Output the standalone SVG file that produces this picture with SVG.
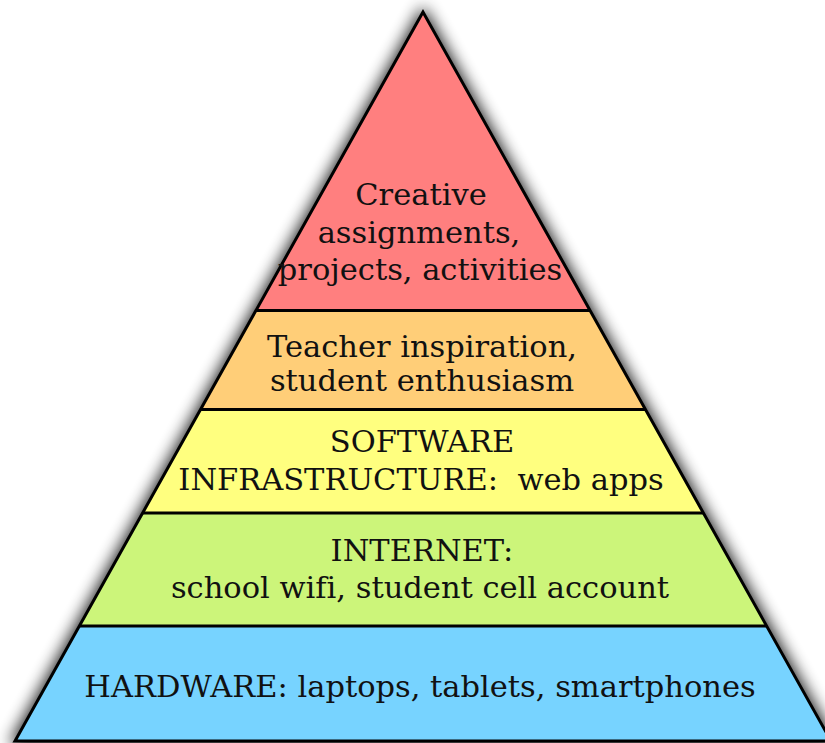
<svg xmlns="http://www.w3.org/2000/svg" width="825" height="743" viewBox="0 0 825 743">
  <defs>
    <filter id="shadow" x="-20%" y="-20%" width="140%" height="140%">
      <feGaussianBlur stdDeviation="8"/>
    </filter>
    <clipPath id="tri"><polygon points="423,12 15,741 831,741"/></clipPath>
  </defs>
  <style>
    .lbl { font-family: "DejaVu Serif", "Liberation Serif", serif; font-size: 30.5px; fill: #111; text-anchor: middle; white-space: pre; font-variant-ligatures: none; }
    .sep { stroke: #000; stroke-width: 3; }
  </style>
  <rect width="825" height="743" fill="#fff"/>
  <polygon points="423,6 9,745 837,745" fill="#000" opacity="0.9" filter="url(#shadow)"/>
  <g clip-path="url(#tri)">
    <g id="level-creative">
      <rect x="0" y="0" width="825" height="311" fill="#FF7F7F"/>
    </g>
    <g id="level-inspiration">
      <rect x="0" y="311" width="825" height="99" fill="#FFCE78"/>
    </g>
    <g id="level-software">
      <rect x="0" y="410" width="825" height="103" fill="#FFFF7F"/>
    </g>
    <g id="level-internet">
      <rect x="0" y="513" width="825" height="113" fill="#CCF57A"/>
    </g>
    <g id="level-hardware">
      <rect x="0" y="626" width="825" height="117" fill="#77D3FF"/>
    </g>
    <g id="connectors">
      <line class="sep" x1="0" y1="310.5" x2="825" y2="310.5"/>
      <line class="sep" x1="0" y1="409.5" x2="825" y2="409.5"/>
      <line class="sep" x1="0" y1="513" x2="825" y2="513"/>
      <line class="sep" x1="0" y1="626" x2="825" y2="626"/>
    </g>
  </g>
  <polygon points="423,12 15,741 831,741" fill="none" stroke="#000" stroke-width="3" stroke-linejoin="miter"/>
  <g id="labels">
    <text class="lbl" x="421" y="205">Creative</text>
    <text class="lbl" x="419" y="243">assignments,</text>
    <text class="lbl" x="420" y="280">projects, activities</text>
    <text class="lbl" x="422" y="357">Teacher inspiration,</text>
    <text class="lbl" x="422" y="391">student enthusiasm</text>
    <text class="lbl" x="422" y="452">SOFTWARE</text>
    <text class="lbl" x="421" y="490" xml:space="preserve">INFRASTRUCTURE:  web apps</text>
    <text class="lbl" x="422" y="561">INTERNET:</text>
    <text class="lbl" x="420" y="598">school wifi, student cell account</text>
    <text class="lbl" x="420" y="697">HARDWARE: laptops, tablets, smartphones</text>
  </g>
</svg>
